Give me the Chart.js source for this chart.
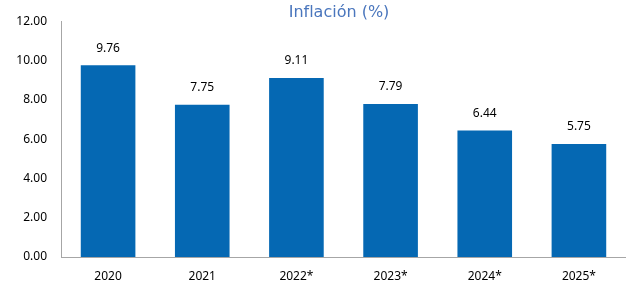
<!DOCTYPE html>
<html lang="es">
<head>
    <meta charset="UTF-8">
    <title>Inflación</title>
    <style>
        html, body { margin: 0; padding: 0; background: #fff; }
        #wrap { width: 626px; height: 288px; }
    </style>
</head>
<body>
    <div id="wrap">
        <canvas id="myChart"></canvas>
    </div>

    <script src="https://cdn.jsdelivr.net/npm/chart.js"></script>
    <script>
        const years = ['2020', '2021', '2022*', '2023*', '2024*', '2025*'];
        const inflation = [9.76, 7.75, 9.11, 7.79, 6.44, 5.75];
        const yTicks = [0, 2, 4, 6, 8, 10, 12];
        const chartTitle = 'Inflación (%)';

        const ctx = document.getElementById('myChart');

        // value labels above bars + the title
        const labelsPlugin = {
            id: 'barLabels',
            afterDatasetsDraw(chart) {
                const c = chart.ctx;
                const meta = chart.getDatasetMeta(0);
                c.save();
                c.fillStyle = '#000';
                c.font = '12px "Noto Sans", sans-serif';
                c.textAlign = 'center';
                c.textBaseline = 'middle';
                meta.data.forEach((bar, i) => {
                    c.fillText(inflation[i].toFixed(2), bar.x, bar.y - 17);
                });

                c.fillStyle = '#4a76bd';
                c.font = '16px "DejaVu Sans", sans-serif';
                c.fillText(chartTitle, 339, 13);
                c.restore();
            }
        };

        new Chart(ctx, {
            type: 'bar',
            data: {
                labels: years,
                datasets: [{
                    data: inflation,
                    backgroundColor: '#0568b3',
                    categoryPercentage: 0.58,
                    barPercentage: 1
                }]
            },
            options: {
                responsive: true,
                maintainAspectRatio: false,
                animation: false,
                layout: { padding: { top: 13, right: 0, bottom: 0, left: 0 } },
                plugins: {
                    legend: { display: false },
                    tooltip: { enabled: false }
                },
                scales: {
                    x: {
                        afterFit(scale) { scale.height = 31; },
                        grid: { display: false, drawTicks: false },
                        border: { color: '#a6a6a6', width: 1 },
                        ticks: {
                            color: '#000',
                            padding: 12,
                            maxRotation: 0,
                            font: { family: '"Noto Sans", sans-serif', size: 12 }
                        }
                    },
                    y: {
                        min: 0,
                        max: 12,
                        afterFit(scale) { scale.width = 61; },
                        afterBuildTicks(scale) {
                            scale.ticks = yTicks.map(v => ({ value: v }));
                        },
                        grid: { display: false, drawTicks: false },
                        border: { color: '#a6a6a6', width: 1 },
                        ticks: {
                            color: '#000',
                            padding: 14,
                            font: { family: '"Noto Sans", sans-serif', size: 12 },
                            callback: v => v.toFixed(2)
                        }
                    }
                }
            },
            plugins: [labelsPlugin]
        });
    </script>
</body>
</html>
